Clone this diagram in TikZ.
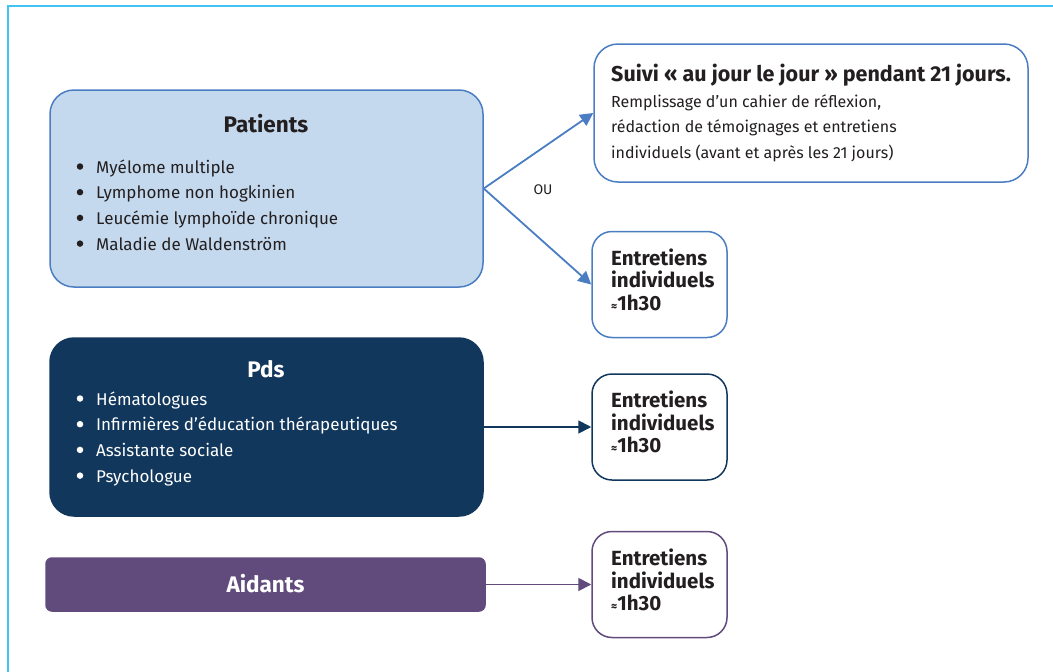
\documentclass[tikz,border=0pt]{standalone}
\usepackage{fontspec}
\setmainfont{Fira Sans}
\usetikzlibrary{arrows.meta}
\definecolor{patfill}{HTML}{C5D9EE}
\definecolor{patline}{HTML}{4A7DC2}
\definecolor{pdsblue}{HTML}{12375C}
\definecolor{aidpurple}{HTML}{614A7C}
\definecolor{framecyan}{HTML}{40C4F2}
\definecolor{ink}{HTML}{231F20}

\begin{document}
\begin{tikzpicture}[x=1pt,y=-1pt,
  box/.style={draw,line width=1.5pt,rounded corners=24pt,inner sep=0pt},
  entbox/.style={box,rounded corners=20pt,fill=white,minimum width=135pt,minimum height=106pt},
  item/.style={anchor=base west,inner sep=0pt,text=ink,font=\fontsize{17}{20}\selectfont},
  smallitem/.style={item,font=\fontsize{16}{20}\selectfont},
  bolditem/.style={item,font=\fontsize{20.5}{24}\selectfont\bfseries},
  dot/.style={circle,fill=ink,inner sep=0pt,minimum size=6.5pt},
  title/.style={anchor=base,inner sep=0pt,font=\fontsize{22.5}{26}\selectfont\bfseries},
  link/.style={-{Triangle[length=13pt,width=13pt]},line width=1.8pt}]
  \useasboundingbox (0,0) rectangle (1053,672);

  % Frame
  \draw[framecyan,line width=2pt] (8,672) -- (8,6) -- (1053,6);

  % Boxes
  \node[box,draw=patline,fill=patfill,minimum width=433pt,minimum height=197pt] (pat) at (266.5,188.5) {};
  \node[box,draw=pdsblue,fill=pdsblue,minimum width=433pt,minimum height=178pt] (pds) at (266.5,427) {};
  \node[box,draw=aidpurple,fill=aidpurple,rounded corners=6pt,minimum width=439pt,minimum height=53pt] (aid) at (265.5,584.5) {};
  \node[box,draw=patline,fill=white,minimum width=434pt,minimum height=138pt] (suivi) at (811,113) {};
  \node[entbox,draw=patline] (ent1) at (659.5,284.5) {};
  \node[entbox,draw=pdsblue] (ent2) at (659.5,427) {};
  \node[entbox,draw=aidpurple] (ent3) at (659.5,584.5) {};

  % Patients
  \node[title,text=ink] (pat-title) at (266,132) {Patients};
  \foreach \txt [count=\i from 0] in {Myélome multiple,Lymphome non hogkinien,Leucémie lymphoïde chronique,Maladie de Waldenström}{
    \node[dot] (pat-dot-\i) at (80,166.5+25.7*\i) {};
    \node[item] (pat-\i) at (96,173+25.7*\i) {\txt};
  }

  % Pds
  \node[title,text=white] (pds-title) at (266,377) {Pds};
  \foreach \txt [count=\i from 0] in {Hématologues,Infirmières d’éducation thérapeutiques,Assistante sociale,Psychologue}{
    \node[dot,fill=white] (pds-dot-\i) at (80,398.5+25.7*\i) {};
    \node[item,text=white] (pds-\i) at (96,405+25.7*\i) {\txt};
  }

  % Aidants
  \node[title,text=white] (aid-title) at (265.5,592) {Aidants};

  % Suivi
  \node[bolditem,font=\fontsize{21.5}{24}\selectfont\bfseries] (suivi-title) at (611,81) {Suivi « au jour le jour » pendant 21 jours.};
  \node[smallitem] (suivi-1) at (611,107) {Remplissage d’un cahier de réflexion,};
  \node[smallitem] (suivi-2) at (611,132.5) {rédaction de témoignages et entretiens};
  \node[smallitem] (suivi-3) at (611,158) {individuels (avant et après les 21 jours)};

  % Entretiens
  \foreach \b/\y in {ent1/265,ent2/407.5,ent3/565.5}{
    \node[bolditem] (\b-a) at (611,\y) {Entretiens};
    \node[bolditem] (\b-b) at (611,\y+22.5) {individuels};
    \node[bolditem] (\b-c) at (611,\y+45) {{\fontsize{12}{12}\selectfont ≈}1h30};
  }

  % Arrows
  \draw[link,patline] (pat.east) -- (suivi.west);
  \draw[link,patline] (pat.east) -- (ent1.west);
  \node[inner sep=0pt,text=ink,font=\fontsize{14}{14}\selectfont] (ou) at (543,190) {OU};
  \draw[link,pdsblue] (pds.east) -- (ent2.west);
  \draw[link,aidpurple] (aid.east) -- (ent3.west);

\end{tikzpicture}
\end{document}
